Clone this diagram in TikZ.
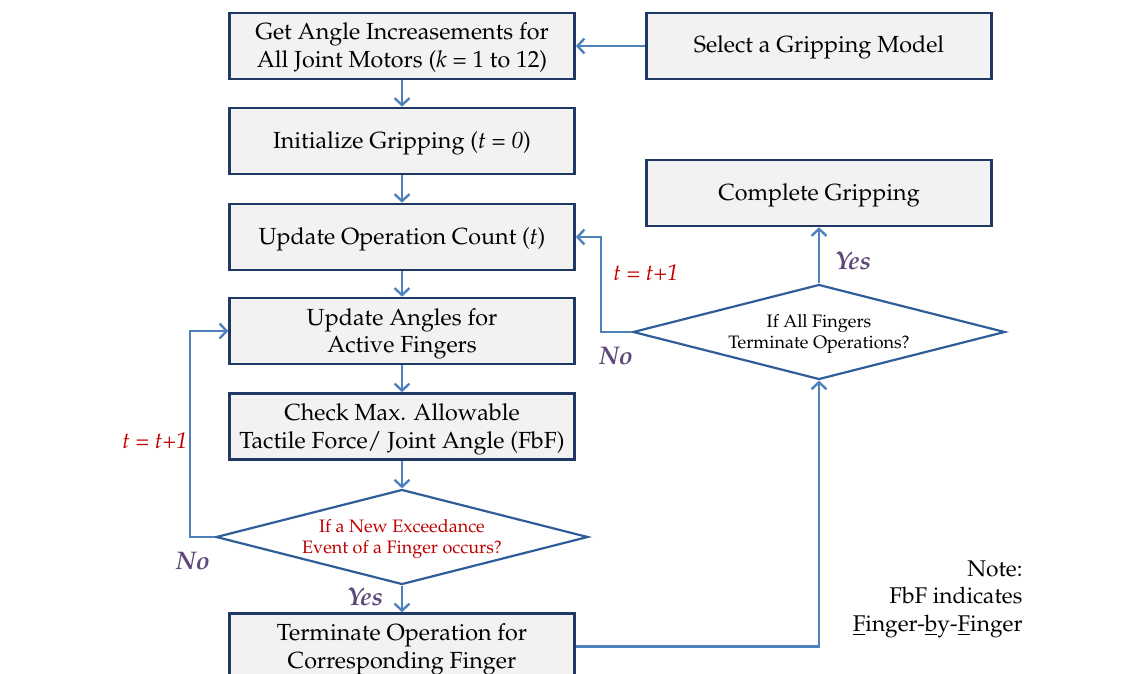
\documentclass[tikz,border=0pt]{standalone}
\usepackage[T1]{fontenc}
\usepackage{mathpazo}
\usetikzlibrary{arrows.meta,shapes.geometric}
\definecolor{boxline}{HTML}{1F3864}
\definecolor{boxfill}{HTML}{F2F2F2}
\definecolor{arrowc}{HTML}{4F81BD}
\definecolor{diamc}{HTML}{2E5D9A}
\definecolor{redt}{HTML}{C00000}
\definecolor{purp}{HTML}{5F497A}
\tikzset{
  stepbox/.style={draw=boxline, fill=boxfill, line width=2.6pt, minimum width=345pt, minimum height=66pt, inner sep=0pt, align=center, font=\fontsize{23.3}{27.5}\selectfont, text height=20pt, text depth=6pt},
  twoline/.style={text height=49pt, text depth=6pt},
  decision/.style={draw=diamc, line width=2.2pt, shape=diamond, aspect=3.87, minimum width=372pt, minimum height=95pt, inner sep=0pt, align=center, font=\fontsize{18}{21}\selectfont, text height=37pt, text depth=5pt},
  flow/.style={draw=arrowc, line width=2.4pt, -{Straight Barb[length=7pt,width=15pt,line width=2.4pt]}},
  condlbl/.style={text=purp, font=\fontsize{25.5}{28}\selectfont\bfseries\itshape},
  inclbl/.style={text=redt, font=\fontsize{22.6}{25}\selectfont\itshape},
}
\begin{document}
\begin{tikzpicture}[x=1pt,y=-1pt]
\useasboundingbox (0,0) rectangle (1145,674);
\clip (0,0) rectangle (1145,674);
\node[stepbox, twoline] (get) at (402,46) {Get Angle Increasements for\\All Joint Motors (\textit{k} = 1 to 12)};
\node[stepbox] (sel) at (819,46) {Select a Gripping Model};
\node[stepbox] (init) at (402,141) {Initialize Gripping (\textit{t} = \textit{0})};
\node[stepbox] (upc) at (402,237) {Update Operation Count (\textit{t})};
\node[stepbox, twoline] (upa) at (402,331) {Update Angles for\\Active Fingers};
\node[stepbox, twoline] (chk) at (402,426.5) {Check Max. Allowable\\Tactile Force/ Joint Angle (FbF)};
\node[decision, text=redt] (d1) at (402,537) {If a New Exceedance\\Event of a Finger occurs?};
\node[stepbox, twoline] (term) at (402,646.5) {Terminate Operation for\\Corresponding Finger};
\node[stepbox] (comp) at (819,193) {Complete Gripping};
\node[decision] (d2) at (819,332) {If All Fingers\\Terminate Operations?};

\draw[flow] (sel.west) -- (get.east);
\draw[flow] (get.south) -- (init.north);
\draw[flow] (init.south) -- (upc.north);
\draw[flow] (upc.south) -- (upa.north);
\draw[flow] (upa.south) -- (chk.north);
\draw[flow] (chk.south) -- (d1.north);
\draw[flow] (d1.south) -- (term.north);
\draw[flow] (d1.west) -- ++(-25,0) |- (upa.west);
\draw[flow] (d2.north) -- (comp.south);
\draw[flow] (d2.west) -- ++(-31,0) |- (upc.east);
\draw[flow] (term.east) -| (d2.south);

\node[inclbl] (inc1) at (155,441) {t = t+1};
\node[inclbl] (inc2) at (646,273) {t = t+1};
\node[condlbl] (no1) at (193,561) {No};
\node[condlbl] (no2) at (616,356) {No};
\node[condlbl] (yes1) at (365,597) {Yes};
\node[condlbl] (yes2) at (853,261) {Yes};
\node[anchor=east, align=right, font=\fontsize{22.7}{27.5}\selectfont] (note) at (1026,599) {Note:\\FbF indicates\\\underline{F}inger-\underline{b}y-\underline{F}inger};
\end{tikzpicture}
\end{document}
